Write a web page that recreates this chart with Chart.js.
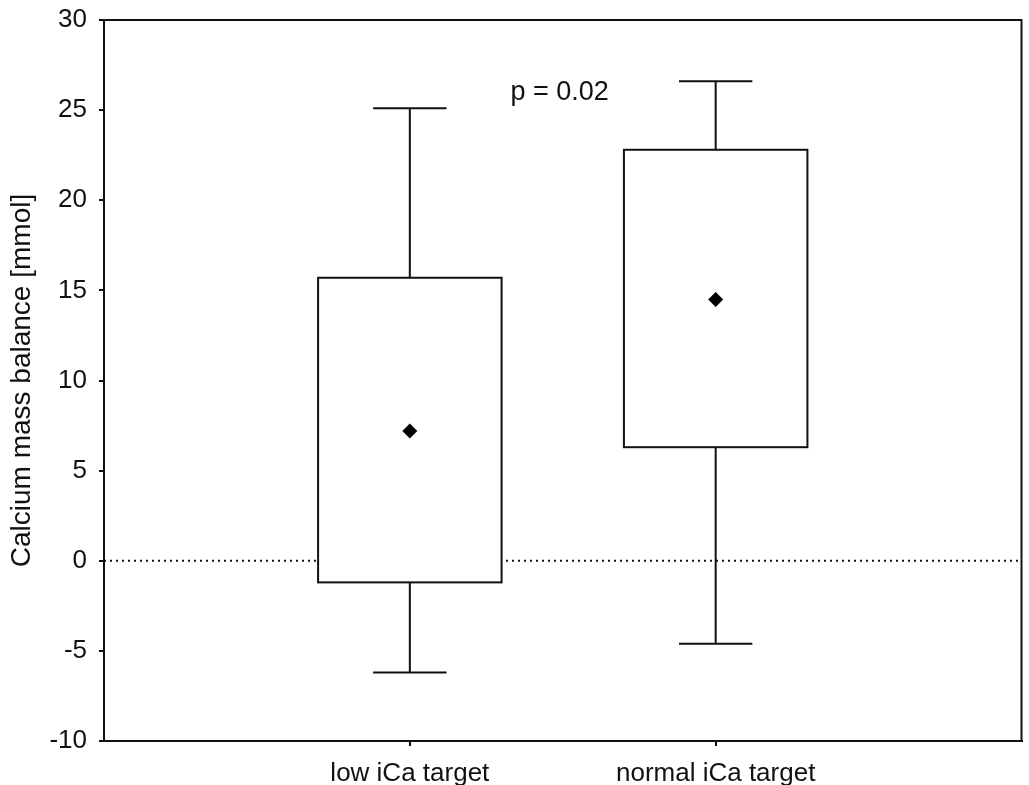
<!DOCTYPE html>
<html>
<head>
<meta charset="utf-8">
<script src="https://cdn.jsdelivr.net/npm/chart.js@4.4.1/dist/chart.umd.min.js"></script>
<style>
  html, body { margin: 0; padding: 0; background: #fff; }
  #wrap { width: 1029px; height: 785px; }
</style>
</head>
<body>
<div id="wrap"><canvas id="boxChart" width="1029" height="785"></canvas></div>
<script>
// data
const groups = ['low iCa target', 'normal iCa target'];
const groupX = [1, 2];
const whiskerMin = [-6.2, -4.6];
const boxLow = [-1.2, 6.3];
const boxHigh = [15.7, 22.8];
const whiskerMax = [25.1, 26.6];
const means = [7.2, 14.5];
const pLabel = 'p = 0.02';
const pLabelAt = [1.49, 26.0];

const ink = '#111';
const lw = 2;
const fontFamily = '"Liberation Sans", Arial, Helvetica, sans-serif';

const boxPlugin = {
    id: 'boxes',
    afterDatasetDraw(chart, args) {
        // boxes go on top of the dotted zero line, under the means
        if (args.index !== 0) return;
        const ctx = chart.ctx;
        const xs = chart.scales.x, ys = chart.scales.y;
        ctx.save();
        ctx.strokeStyle = ink;
        ctx.lineWidth = lw;
        for (let i = 0; i < groups.length; i++) {
            const cx = xs.getPixelForValue(groupX[i]);
            const bl = xs.getPixelForValue(groupX[i] - 0.3);
            const br = xs.getPixelForValue(groupX[i] + 0.3);
            const cl = xs.getPixelForValue(groupX[i] - 0.12);
            const cr = xs.getPixelForValue(groupX[i] + 0.12);
            const yTop = ys.getPixelForValue(boxHigh[i]);
            const yBot = ys.getPixelForValue(boxLow[i]);
            const yMax = ys.getPixelForValue(whiskerMax[i]);
            const yMin = ys.getPixelForValue(whiskerMin[i]);
            ctx.beginPath();
            ctx.moveTo(cx, yMax); ctx.lineTo(cx, yTop);
            ctx.moveTo(cx, yBot); ctx.lineTo(cx, yMin);
            ctx.moveTo(cl, yMax); ctx.lineTo(cr, yMax);
            ctx.moveTo(cl, yMin); ctx.lineTo(cr, yMin);
            ctx.stroke();
            ctx.fillStyle = '#fff';
            ctx.fillRect(bl, yTop, br - bl, yBot - yTop);
            ctx.strokeRect(bl, yTop, br - bl, yBot - yTop);
        }
        ctx.restore();
    },
    afterDraw(chart) {
        const ctx = chart.ctx;
        const a = chart.chartArea;
        const xs = chart.scales.x, ys = chart.scales.y;
        ctx.save();
        ctx.strokeStyle = ink;
        ctx.lineWidth = lw;
        ctx.beginPath();
        ctx.moveTo(a.left, a.top); ctx.lineTo(a.right, a.top);
        ctx.lineTo(a.right, a.bottom);
        ctx.stroke();
        ctx.fillStyle = ink;
        ctx.font = '27px ' + fontFamily;
        ctx.textAlign = 'center';
        ctx.textBaseline = 'middle';
        ctx.fillText(pLabel, xs.getPixelForValue(pLabelAt[0]), ys.getPixelForValue(pLabelAt[1]));
        ctx.restore();
    }
};

const chart = new Chart(document.getElementById('boxChart'), {
    type: 'scatter',
    data: {
        datasets: [{
            // zero reference line
            type: 'line',
            order: 2,
            data: [{x: 0, y: 0}, {x: 3, y: 0}],
            borderColor: ink,
            borderWidth: lw,
            borderDash: [2, 4],
            pointRadius: 0
        }, {
            label: 'mean',
            order: 1,
            data: groupX.map((x, i) => ({x: x, y: means[i]})),
            pointStyle: 'rectRot',
            pointRadius: 7.5,
            backgroundColor: '#000',
            borderColor: '#000',
            borderWidth: 0
        }]
    },
    plugins: [boxPlugin],
    options: {
        responsive: false,
        animation: false,
        layout: { padding: { top: 20, right: 3, left: 0, bottom: 0 } },
        plugins: {
            legend: { display: false },
            tooltip: { enabled: false }
        },
        scales: {
            x: {
                type: 'linear',
                min: 0,
                max: 3,
                afterBuildTicks: (scale) => { scale.ticks = groupX.map(v => ({value: v})); },
                afterFit: (scale) => {
                    scale.height = 44;
                    scale.paddingLeft = 0;
                    scale.paddingRight = 0;
                },
                ticks: {
                    callback: (v) => groups[groupX.indexOf(v)] || '',
                    color: ink,
                    font: { size: 26, family: fontFamily },
                    padding: 12,
                    maxRotation: 0
                },
                grid: { drawOnChartArea: false, color: ink, tickLength: 5, lineWidth: lw },
                border: { color: ink, width: lw }
            },
            y: {
                min: -10,
                max: 30,
                afterFit: (scale) => {
                    scale.width = 104;
                    scale.paddingTop = 0;
                    scale.paddingBottom = 0;
                },
                ticks: {
                    stepSize: 5,
                    color: ink,
                    font: { size: 26, family: fontFamily },
                    padding: 12
                },
                grid: { drawOnChartArea: false, color: ink, tickLength: 5, lineWidth: lw },
                border: { color: ink, width: lw },
                title: {
                    display: true,
                    text: 'Calcium mass balance [mmol]',
                    color: ink,
                    font: { size: 28, family: fontFamily },
                    padding: { top: 5, bottom: 0 }
                }
            }
        }
    }
});
</script>
</body>
</html>
